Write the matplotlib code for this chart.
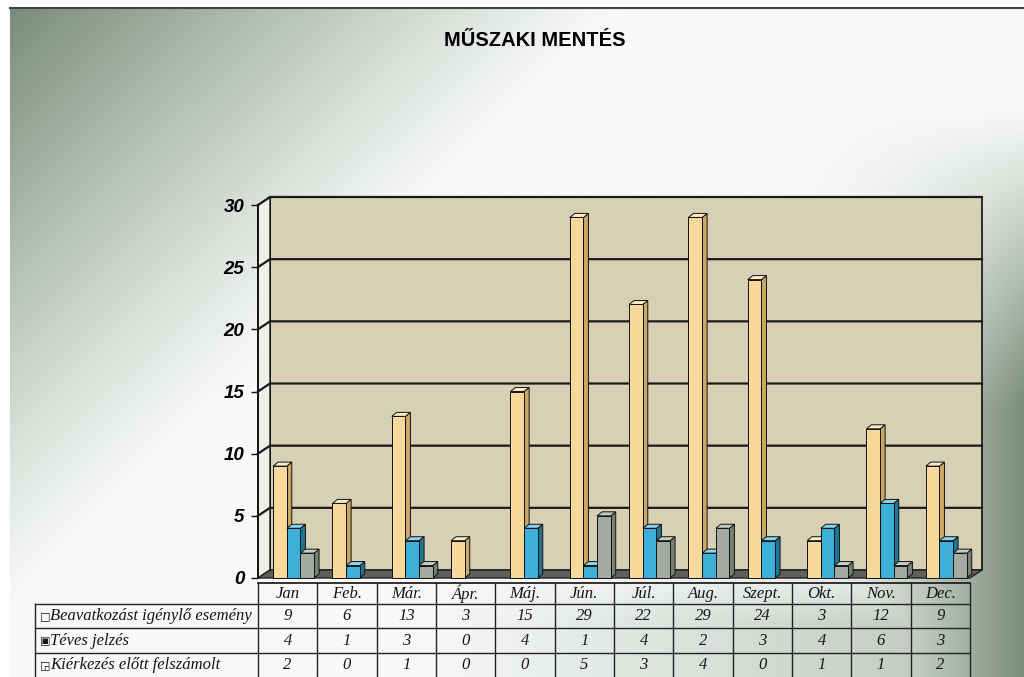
import numpy as np
import matplotlib.pyplot as plt
from matplotlib.patches import Polygon, Rectangle

# adatok
months = ["Jan", "Feb.", "Már.", "Ápr.", "Máj.", "Jún.", "Júl.", "Aug.", "Szept.", "Okt.", "Nov.", "Dec."]
series_names = ["Beavatkozást igénylő esemény", "Téves jelzés", "Kiérkezés előtt felszámolt"]
beavatkozas = [9, 6, 13, 3, 15, 29, 22, 29, 24, 3, 12, 9]
teves = [4, 1, 3, 0, 4, 1, 4, 2, 3, 4, 6, 3]
felszamolt = [2, 0, 1, 0, 0, 5, 3, 4, 0, 1, 1, 2]
y_ticks = [0, 5, 10, 15, 20, 25, 30]
symbols = ["□", "▣", "◲"]

front_col = ["#f7d99c", "#3cb0d8", "#a2aaa2"]
top_col = ["#fcebc6", "#8ad4ec", "#c6ccc6"]
side_col = ["#c9a865", "#1c7696", "#768076"]

W, H = 1024, 677
fig = plt.figure(figsize=(W / 100, H / 100), dpi=100)
fig.patch.set_facecolor("white")

# háttér színátmenet
bg = fig.add_axes([0, 0, 1, 1], zorder=-10)
X, Y = np.meshgrid(np.linspace(0, 1, 400), np.linspace(0, 1, 300))
left_dark = np.clip(1 - (X / 0.6 + Y / 0.9), 0, 1) ** 1.1
right_dark = np.clip((X - 0.76) / 0.24, 0, 1) ** 1.5 * np.clip((Y - 0.15) / 0.45, 0, 1)
table_dark = np.clip((X - 0.4) / 0.6, 0, 1) * np.clip((Y - 0.82) / 0.1, 0, 1) * 0.5
d = np.maximum(np.maximum(left_dark, right_dark), table_dark)[..., None]
light = np.array([248, 250, 248]) / 255
dark = np.array([122, 140, 124]) / 255
img = light * (1 - d) + dark * d
bg.imshow(img, extent=[10, W, H, 8], aspect="auto")
bg.set_xlim(0, W)
bg.set_ylim(H, 0)
bg.plot([10, W], [8, 8], color="#444444", lw=1.5)
bg.axis("off")

# fő diagram
left, right, y0, y30 = 258, 970, 578, 205
ax = fig.add_axes([left / W, 1 - y0 / H, (right - left) / W, (y0 - y30) / H])
ax.set_xlim(-0.5, 11.5)
ax.set_ylim(0, 30)
ax.patch.set_alpha(0)
px_x = (right - left) / 12
px_y = (y0 - y30) / 30
wx, wy = 12 / px_x, 8 / px_y
bx, by = 5 / px_x, 4 / px_y

# hátfal, oldalfal, padló
ax.add_patch(Rectangle((-0.5 + wx, wy), 12, 30, facecolor="#d8d0b4", edgecolor="#111111",
                       lw=1.2, clip_on=False, zorder=0))
ax.add_patch(Polygon([(-0.5, 0), (-0.5, 30), (-0.5 + wx, 30 + wy), (-0.5 + wx, wy)],
                     facecolor="#eef0ea", edgecolor="#111111", lw=1, clip_on=False, zorder=0.5))
ax.add_patch(Polygon([(-0.5, 0), (11.5, 0), (11.5 + wx, wy), (-0.5 + wx, wy)],
                     facecolor="#5f605c", edgecolor="#222222", lw=1, clip_on=False, zorder=1))
for t in y_ticks[1:]:
    ax.plot([-0.5, -0.5 + wx, 11.5 + wx], [t, t + wy, t + wy], color="#1a1a1a", lw=1.6,
            clip_on=False, zorder=1)

offsets = [-0.13, 0.10, 0.33]
bw = 0.23
for i in range(len(months)):
    for k, vals in enumerate([beavatkozas, teves, felszamolt]):
        v = vals[i]
        if v == 0:
            continue
        x0 = i + offsets[k] - bw / 2
        x1 = x0 + bw
        ax.add_patch(Polygon([(x1, 0), (x1 + bx, by), (x1 + bx, v + by), (x1, v)],
                             facecolor=side_col[k], edgecolor="#111111", lw=0.7,
                             clip_on=False, zorder=3))
        ax.add_patch(Polygon([(x0, v), (x1, v), (x1 + bx, v + by), (x0 + bx, v + by)],
                             facecolor=top_col[k], edgecolor="#111111", lw=0.7,
                             clip_on=False, zorder=3))
        ax.bar(x0, v, width=bw, align="edge", color=front_col[k], edgecolor="#111111",
               lw=0.7, zorder=3, clip_on=False)

ax.set_yticks(y_ticks)
ax.set_yticklabels([str(t) for t in y_ticks], fontsize=13.5, fontweight="bold",
                   fontstyle="italic", family="Liberation Sans")
ax.tick_params(axis="y", length=5, width=1, pad=5, color="#111111")
ax.set_xticks([])
for s in ["top", "right", "bottom"]:
    ax.spines[s].set_visible(False)
ax.spines["left"].set_color("#111111")
ax.spines["left"].set_linewidth(1.3)

fig.text(0.522, 1 - 40 / H, "MŰSZAKI MENTÉS", ha="center", va="center",
         fontsize=14.5, fontweight="bold", family="Liberation Sans")

# adattábla
ov = fig.add_axes([0, 0, 1, 1], zorder=5)
ov.set_xlim(0, W)
ov.set_ylim(H, 0)
ov.axis("off")
ov.patch.set_alpha(0)
col_x = [left + k * px_x for k in range(13)]
ov.plot([left, right], [583, 583], color="#222222", lw=1.3)
for yy in [604, 628, 653]:
    ov.plot([35, right], [yy, yy], color="#222222", lw=1)
ov.plot([35, 35], [604, H], color="#222222", lw=1)
for cx in col_x:
    ov.plot([cx, cx], [583, H], color="#222222", lw=1)

tfont = dict(family="Liberation Serif", fontstyle="italic", fontsize=12, color="#151515")
for i, m in enumerate(months):
    cx = left + (i + 0.5) * px_x
    ov.text(cx, 594, m, ha="center", va="center", **tfont)
rows_y = [616, 641, 665]
for r, vals in enumerate([beavatkozas, teves, felszamolt]):
    ov.text(40, rows_y[r], symbols[r], ha="left", va="center", fontsize=8,
            family="DejaVu Sans", color="#151515")
    ov.text(50, rows_y[r], series_names[r], ha="left", va="center", **tfont)
    for i, v in enumerate(vals):
        cx = left + (i + 0.5) * px_x
        ov.text(cx, rows_y[r], str(v), ha="center", va="center", **tfont)

fig.savefig("out.png", dpi=100)
